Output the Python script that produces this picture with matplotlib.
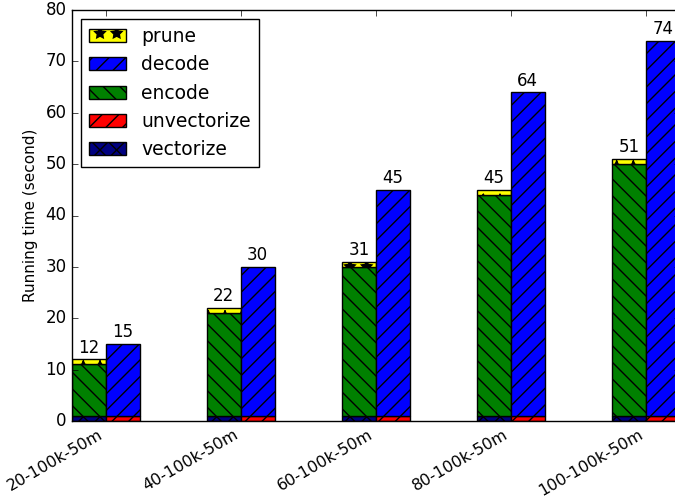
import matplotlib
matplotlib.use('Agg')
import matplotlib.pyplot as plt
import numpy as np

plt.style.use('classic')

configs = ['20-100k-50m', '40-100k-50m', '60-100k-50m', '80-100k-50m', '100-100k-50m']
vectorize = [1, 1, 1, 1, 1]
encode = [10, 20, 29, 43, 49]
prune = [1, 1, 1, 1, 1]
unvectorize = [1, 1, 1, 1, 1]
decode = [14, 29, 44, 63, 73]

fig = plt.figure(figsize=(6.75, 5), dpi=100)
ax = fig.add_axes([72 / 675.0, 79 / 500.0, 607.5 / 675.0, 411 / 500.0])

ind = np.arange(len(configs))
width = 0.25

vec = np.array(vectorize)
enc = np.array(encode)
pru = np.array(prune)
unv = np.array(unvectorize)
dec = np.array(decode)

p_vec = ax.bar(ind, vec, width, color='#000080', hatch='xx', align='edge')
p_enc = ax.bar(ind, enc, width, bottom=vec, color='g', hatch='\\\\', align='edge')
p_pru = ax.bar(ind, pru, width, bottom=vec + enc, color='yellow', hatch='*', align='edge')
p_unv = ax.bar(ind + width, unv, width, color='r', hatch='//', align='edge')
p_dec = ax.bar(ind + width, dec, width, bottom=unv, color='b', hatch='//', align='edge')

# totals above each bar
for x, t in zip(ind, vec + enc + pru):
    ax.text(x + width / 2, t + 0.5, '%d' % t, ha='center', va='bottom', fontsize=12)
for x, t in zip(ind + width, unv + dec):
    ax.text(x + width / 2, t + 0.5, '%d' % t, ha='center', va='bottom', fontsize=12)

ax.set_xlim(0, 4.5)
ax.set_ylim(0, 80)
ax.set_xticks(ind + width)
ax.set_xticklabels(configs, rotation=30, ha='right', fontsize=11.5)
ax.tick_params(axis='y', labelsize=12)
ax.set_ylabel('Running time (second)', fontsize=11)

ax.legend((p_pru[0], p_dec[0], p_enc[0], p_unv[0], p_vec[0]),
          ('prune', 'decode', 'encode', 'unvectorize', 'vectorize'),
          loc='upper left', fontsize=13.5)

fig.savefig('out.png', dpi=100)
